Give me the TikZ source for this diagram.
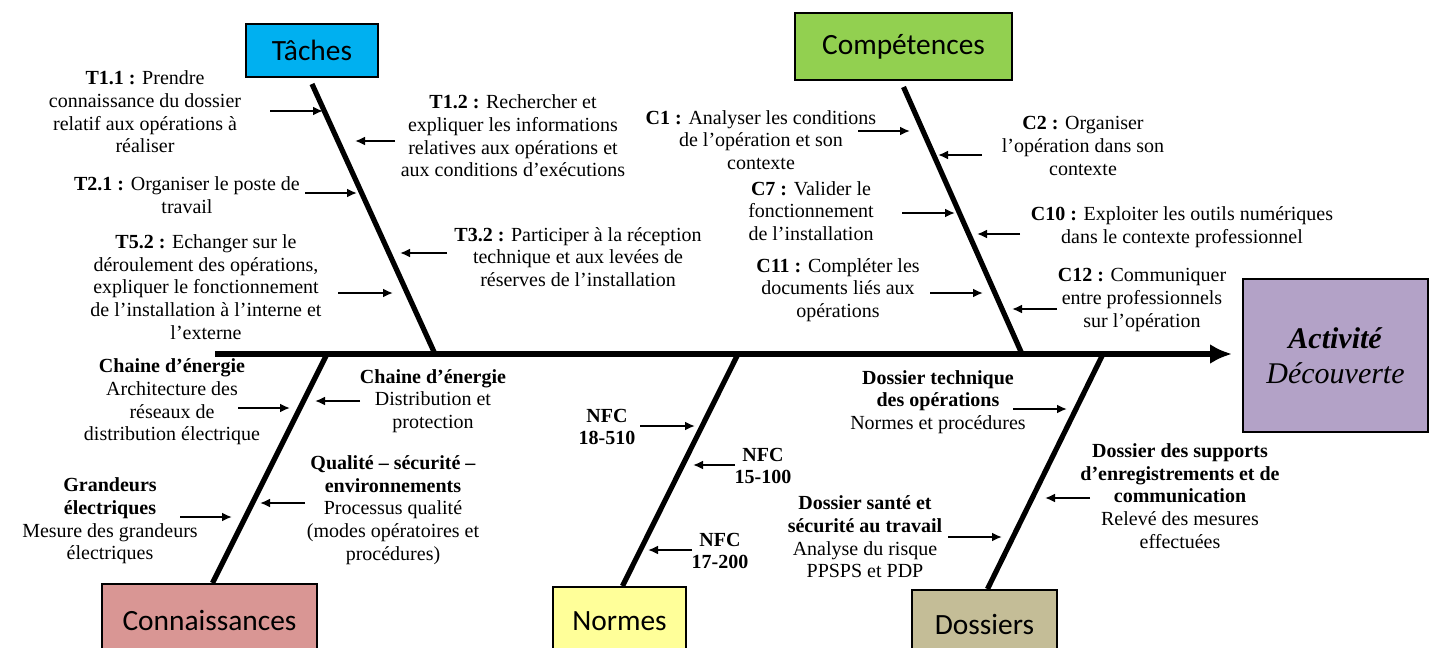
\documentclass[tikz,border=0pt]{standalone}
\usepackage{fontspec}
\setmainfont{Liberation Serif}
\newfontfamily\boxfont{Carlito}
\usetikzlibrary{arrows.meta,positioning}

\definecolor{tachescol}{RGB}{0,176,240}
\definecolor{competcol}{RGB}{146,208,80}
\definecolor{connaiscol}{RGB}{217,150,148}
\definecolor{normescol}{RGB}{255,255,153}
\definecolor{dossiercol}{RGB}{196,189,151}
\definecolor{activcol}{RGB}{179,162,199}

\begin{document}
\begin{tikzpicture}[x=0.5pt,y=-0.5pt,
    catbox/.style={draw,line width=1pt,inner sep=0pt,font=\boxfont\fontsize{14.7}{17}\selectfont},
    lbl/.style={align=center,inner sep=0pt,font=\fontsize{10}{11.3}\selectfont},
    bone/.style={line width=2.6pt},
    sub/.style={line width=1pt,-{Latex[length=5pt,width=4.5pt]}}]
    \useasboundingbox (0,0) rectangle (1430,648);

    % categories
    \node[catbox,fill=tachescol,minimum width=66pt,minimum height=26.5pt] (taches) at (312,50.5) {Tâches};
    \node[catbox,fill=competcol,minimum width=108.5pt,minimum height=33.5pt] (compet) at (903.5,46.5) {Compétences};
    \node[catbox,fill=connaiscol,minimum width=107.5pt,minimum height=36pt] (connais) at (209.5,620) {Connaissances};
    \node[catbox,fill=normescol,minimum width=66.5pt,minimum height=34pt] (normes) at (619.5,621) {Normes};
    \node[catbox,fill=dossiercol,minimum width=72.5pt,minimum height=34pt] (dossiers) at (984.5,624) {Dossiers};
    \node[draw,line width=1pt,fill=activcol,minimum width=92.5pt,minimum height=76.5pt,align=center,
          font=\fontsize{15}{17.5}\selectfont] (activite) at (1335.5,355.5) {\textbf{\textit{Activité}}\\\textit{Découverte}};

    % spine and bones
    \coordinate (spinestart) at (215,354);
    \coordinate (jtaches) at (435,354);
    \coordinate (jcompet) at (1022,354);
    \coordinate (jconnais) at (327,354);
    \coordinate (jnormes) at (738,354);
    \coordinate (jdossiers) at (1103,354);
    \draw[bone,-{Latex[length=11pt,width=10pt]},shorten >=5pt] (spinestart) -- (activite.west |- spinestart);
    \foreach \cat/\joint in {taches/jtaches,compet/jcompet}
    \draw[bone] ([yshift=-3pt]\cat.south) -- (\joint);
    \foreach \cat/\joint in {connais/jconnais,normes/jnormes,dossiers/jdossiers}
    \draw[bone] ([xshift=1.5pt]\cat.north) -- (\joint);

    % small arrows
    \foreach \n/\xa/\xb/\y in {t11/270/323/111,t21/305/357/193,t52/338/393/293,
        t12/395/355/141,t32/447/400/253,
        c1/858/910/131,c7/902/955/213,c11/930/983/293,
        c2/982/938/155,c10/1020/977/234,c12/1057/1012/309,
        k1/238/290/408,k2/180/232/517,k3/360/315/401,k4/305/260/503,
        n1/640/695/426,n2/735/693/465,n3/692/648/550,
        d1/1013/1067/409,d2/948/1002/537,d3/1090/1045/498}
    {
        \coordinate (\n a) at (\xa,\y);
        \coordinate (\n b) at (\xb,\y);
        \draw[sub] (\n a) -- (\n b);
    }

    % labels Taches
    \node[lbl] (lt11) at (145,112) {\textbf{T1.1 :} Prendre\\connaissance du dossier\\relatif aux opérations à\\réaliser};
    \node[lbl] (lt21) at (187,195) {\textbf{T2.1 :} Organiser le poste de\\travail};
    \node[lbl] (lt52) at (206,287) {\textbf{T5.2 :} Echanger sur le\\déroulement des opérations,\\expliquer le fonctionnement\\de l’installation à l’interne et\\l’externe};
    \node[lbl] (lt12) at (513,136) {\textbf{T1.2 :} Rechercher et\\expliquer les informations\\relatives aux opérations et\\aux conditions d’exécutions};
    \node[lbl] (lt32) at (578,257) {\textbf{T3.2 :} Participer à la réception\\technique et aux levées de\\réserves de l’installation};

    % labels Competences
    \node[lbl] (lc1) at (761,140) {\textbf{C1 :} Analyser les conditions\\de l’opération et son\\contexte};
    \node[lbl] (lc7) at (811,211) {\textbf{C7 :} Valider le\\fonctionnement\\de l’installation};
    \node[lbl] (lc11) at (838,290) {\textbf{C11 :} Compléter les\\documents liés aux\\opérations};
    \node[lbl] (lc2) at (1083,146) {\textbf{C2 :} Organiser\\l’opération dans son\\contexte};
    \node[lbl] (lc10) at (1182,227) {\textbf{C10 :} Exploiter les outils numériques\\dans le contexte professionnel};
    \node[lbl] (lc12) at (1142,300) {\textbf{C12 :} Communiquer\\entre professionnels\\sur l’opération};

    % labels Connaissances
    \node[lbl] (lk1) at (172,402) {\textbf{Chaine d’énergie}\\Architecture des\\réseaux de\\distribution électrique};
    \node[lbl] (lk3) at (433,401) {\textbf{Chaine d’énergie}\\Distribution et\\protection};
    \node[lbl] (lk2) at (110,521) {\textbf{Grandeurs}\\\textbf{électriques}\\Mesure des grandeurs\\électriques};
    \node[lbl] (lk4) at (393,510) {\textbf{Qualité – sécurité –}\\\textbf{environnements}\\Processus qualité\\(modes opératoires et\\procédures)};

    % labels Normes
    \node[lbl,font=\bfseries\fontsize{10}{11.3}\selectfont] (ln1) at (607,427) {NFC\\18-510};
    \node[lbl,font=\bfseries\fontsize{10}{11.3}\selectfont] (ln2) at (763,466) {NFC\\15-100};
    \node[lbl,font=\bfseries\fontsize{10}{11.3}\selectfont] (ln3) at (720,551) {NFC\\17-200};

    % labels Dossiers
    \node[lbl] (ld1) at (938,402) {\textbf{Dossier technique}\\\textbf{des opérations}\\Normes et procédures};
    \node[lbl] (ld2) at (865,537) {\textbf{Dossier santé et}\\\textbf{sécurité au travail}\\Analyse du risque\\PPSPS et PDP};
    \node[lbl] (ld3) at (1180,496) {\textbf{Dossier des supports}\\\textbf{d’enregistrements et de}\\\textbf{communication}\\Relevé des mesures\\effectuées};
\end{tikzpicture}
\end{document}
